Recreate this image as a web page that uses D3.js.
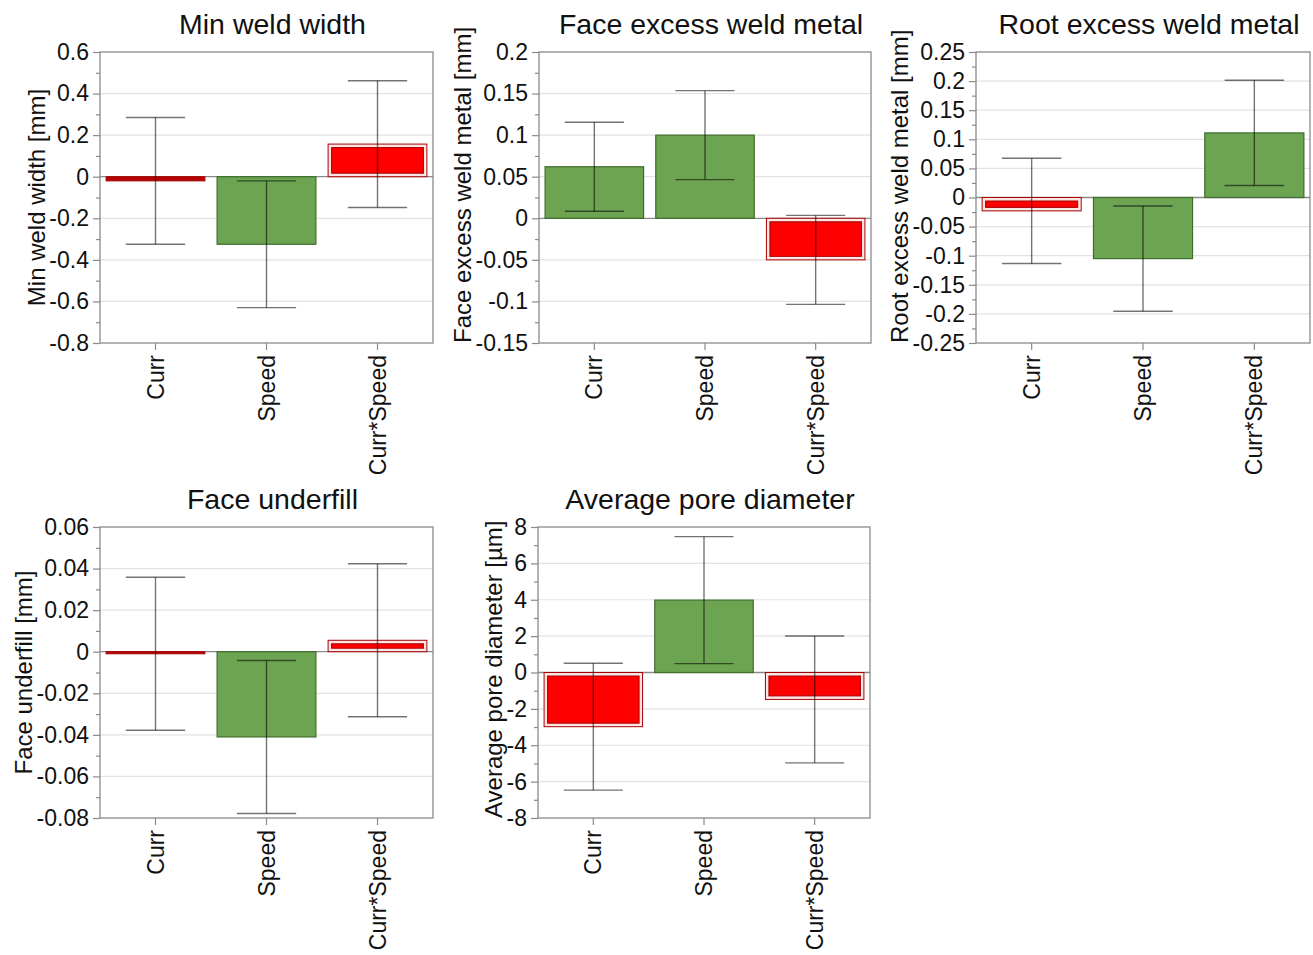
<!DOCTYPE html>
<html>
<head>
<meta charset="utf-8">
<script src="https://cdn.jsdelivr.net/npm/d3@7"></script>
<style>
  html, body { margin: 0; padding: 0; background: #fff; }
  svg { display: block; font-family: "Liberation Sans", Arial, sans-serif; }
</style>
</head>
<body>
<svg id="chart" width="1313" height="955"></svg>
<script>
// ---------------- DATA ----------------
const categories = ["Curr", "Speed", "Curr*Speed"];

const titles = ["Min weld width", "Face excess weld metal", "Root excess weld metal",
                "Face underfill", "Average pore diameter"];
const yLabels = ["Min weld width [mm]", "Face excess weld metal [mm]", "Root excess weld metal [mm]",
                 "Face underfill [mm]", "Average pore diameter [µm]"];

// effect estimates
const minWeldWidth      = [-0.02, -0.325, 0.157];
const faceExcessWeld    = [0.062, 0.100, -0.050];
const rootExcessWeld    = [-0.023, -0.105, 0.111];
const faceUnderfill     = [-0.001, -0.041, 0.0055];
const avgPoreDiameter   = [-2.98, 3.98, -1.48];

// half-width of the error bars
const minWeldWidthErr    = [0.305, 0.305, 0.305];
const faceExcessWeldErr  = [0.0535, 0.0535, 0.0535];
const rootExcessWeldErr  = [0.0905, 0.0905, 0.0905];
const faceUnderfillErr   = [0.0368, 0.0368, 0.0368];
const avgPoreDiameterErr = [3.49, 3.49, 3.49];

// favourable effect (green) or unfavourable (red)
const minWeldWidthFav    = [false, true, false];
const faceExcessWeldFav  = [true, true, false];
const rootExcessWeldFav  = [false, true, true];
const faceUnderfillFav   = [false, true, false];
const avgPoreDiameterFav = [false, true, false];

// y axis domains and tick steps
const yDomains = [[-0.8, 0.6], [-0.15, 0.2], [-0.25, 0.25], [-0.08, 0.06], [-8, 8]];
const yTickSteps = [0.2, 0.05, 0.05, 0.02, 2];

// ---------------- LAYOUT ----------------
const panelBoxes = [
  {x0: 100, x1: 433, y0: 52,  y1: 343},
  {x0: 539, x1: 871, y0: 52,  y1: 343},
  {x0: 976, x1: 1310, y0: 52, y1: 343},
  {x0: 100, x1: 433, y0: 527, y1: 818},
  {x0: 538, x1: 870, y0: 527, y1: 818}
];

const panels = [
  {values: minWeldWidth,    errs: minWeldWidthErr,    fav: minWeldWidthFav},
  {values: faceExcessWeld,  errs: faceExcessWeldErr,  fav: faceExcessWeldFav},
  {values: rootExcessWeld,  errs: rootExcessWeldErr,  fav: rootExcessWeldFav},
  {values: faceUnderfill,   errs: faceUnderfillErr,   fav: faceUnderfillFav},
  {values: avgPoreDiameter, errs: avgPoreDiameterErr, fav: avgPoreDiameterFav}
].map((p, i) => Object.assign(p, {
  title: titles[i], yLabel: yLabels[i], domain: yDomains[i], step: yTickSteps[i], box: panelBoxes[i]
}));

const GREEN = "#6da452", GREEN_STROKE = "#3f6e2c";
const RED = "#ff0000", RED_STROKE = "#a80000", RED_DARK = "#b30000";
const FRAME = "#8a8a8a", GRID = "#e2e2e2";

const svg = d3.select("#chart");
const fmt = v => String(+v.toFixed(6));

panels.forEach(p => {
  const b = p.box;
  const W = b.x1 - b.x0, H = b.y1 - b.y0;
  const g = svg.append("g").attr("transform", `translate(${b.x0},${b.y0})`);

  const x = d3.scaleBand().domain(categories).range([0, W]).paddingInner(0.11).paddingOuter(0.055);
  const y = d3.scaleLinear().domain(p.domain).range([H, 0]);

  const [lo, hi] = p.domain;
  const n = Math.round((hi - lo) / p.step);
  const majors = d3.range(n + 1).map(i => +(lo + i * p.step).toFixed(6));
  const minors = d3.range(n).map(i => +(lo + (i + 0.5) * p.step).toFixed(6));

  // gridlines
  g.append("g").selectAll("line").data(majors.filter(v => v !== lo && v !== hi && v !== 0)).join("line")
    .attr("x1", 0).attr("x2", W).attr("y1", d => y(d)).attr("y2", d => y(d))
    .attr("stroke", GRID).attr("stroke-width", 1.2);

  // zero line
  g.append("line").attr("x1", 0).attr("x2", W).attr("y1", y(0)).attr("y2", y(0))
    .attr("stroke", FRAME).attr("stroke-width", 1.3);

  // bars
  const bars = g.append("g");
  categories.forEach((c, i) => {
    const v = p.values[i];
    const bx = x(c), bw = x.bandwidth();
    const top = y(Math.max(0, v)), bot = y(Math.min(0, v));
    const bh = bot - top;
    if (p.fav[i]) {
      bars.append("rect").attr("x", bx).attr("y", top).attr("width", bw).attr("height", bh)
        .attr("fill", GREEN).attr("stroke", GREEN_STROKE).attr("stroke-width", 1.2);
    } else if (bh < 8) {
      bars.append("rect").attr("x", bx).attr("y", top).attr("width", bw).attr("height", Math.max(bh, 2))
        .attr("fill", RED_DARK).attr("stroke", RED_STROKE).attr("stroke-width", 1);
    } else {
      bars.append("rect").attr("x", bx).attr("y", top).attr("width", bw).attr("height", bh)
        .attr("fill", "#fbe6e6").attr("stroke", RED_STROKE).attr("stroke-width", 1);
      bars.append("rect").attr("x", bx + 3.5).attr("y", top + 3.5).attr("width", bw - 7).attr("height", bh - 7)
        .attr("fill", RED).attr("stroke", RED_STROKE).attr("stroke-width", 1);
    }
  });

  // error bars
  const eg = g.append("g").attr("stroke", "#000").attr("stroke-opacity", 0.55).attr("stroke-width", 1.4);
  categories.forEach((c, i) => {
    const cx = x(c) + x.bandwidth() / 2;
    const v = p.values[i], e = p.errs[i];
    const cap = x.bandwidth() * 0.3;
    eg.append("line").attr("x1", cx).attr("x2", cx).attr("y1", y(v + e)).attr("y2", y(v - e));
    eg.append("line").attr("x1", cx - cap).attr("x2", cx + cap).attr("y1", y(v + e)).attr("y2", y(v + e));
    eg.append("line").attr("x1", cx - cap).attr("x2", cx + cap).attr("y1", y(v - e)).attr("y2", y(v - e));
  });

  // frame
  g.append("rect").attr("x", 0).attr("y", 0).attr("width", W).attr("height", H)
    .attr("fill", "none").attr("stroke", FRAME).attr("stroke-width", 1.3);

  // y axis (majors with labels)
  const yAxis = d3.axisLeft(y).tickValues(majors).tickFormat(fmt).tickSize(7).tickPadding(4);
  const ya = g.append("g").call(yAxis);
  ya.select(".domain").remove();
  ya.selectAll(".tick line").attr("stroke", FRAME).attr("stroke-width", 1.2);
  ya.selectAll(".tick text").attr("font-size", 23).attr("fill", "#111")
    .attr("font-family", "'Liberation Sans', Arial, sans-serif");
  // minor ticks
  const ym = g.append("g").call(d3.axisLeft(y).tickValues(minors).tickFormat("").tickSize(4));
  ym.select(".domain").remove();
  ym.selectAll(".tick line").attr("stroke", FRAME).attr("stroke-width", 1.2);

  // x axis
  const xa = g.append("g").attr("transform", `translate(0,${H})`)
    .call(d3.axisBottom(x).tickSize(7).tickPadding(0));
  xa.select(".domain").remove();
  xa.selectAll(".tick line").attr("stroke", FRAME).attr("stroke-width", 1.2);
  xa.selectAll(".tick text")
    .attr("font-size", 23).attr("fill", "#111")
    .attr("font-family", "'Liberation Sans', Arial, sans-serif")
    .attr("transform", "rotate(-90)")
    .attr("text-anchor", "end")
    .attr("x", -12).attr("y", 0).attr("dy", "0.35em");

  // y label
  let maxW = 0;
  ya.selectAll(".tick text").each(function () { maxW = Math.max(maxW, this.getBBox().width); });
  const lx = -11 - maxW - 13;
  const lab = g.append("text")
    .attr("font-size", 24).attr("fill", "#111")
    .attr("dominant-baseline", "central")
    .text(p.yLabel);
  const len = lab.node().getComputedTextLength();
  if (len > H) {
    lab.attr("text-anchor", "start").attr("transform", `translate(${lx},${H}) rotate(-90)`);
  } else {
    lab.attr("text-anchor", "middle").attr("transform", `translate(${lx},${H / 2}) rotate(-90)`);
  }

  // title
  g.append("text").attr("x", W / 2 + 6).attr("y", -18)
    .attr("text-anchor", "middle").attr("font-size", 28.5).attr("fill", "#111")
    .text(p.title);
});
</script>
</body>
</html>
